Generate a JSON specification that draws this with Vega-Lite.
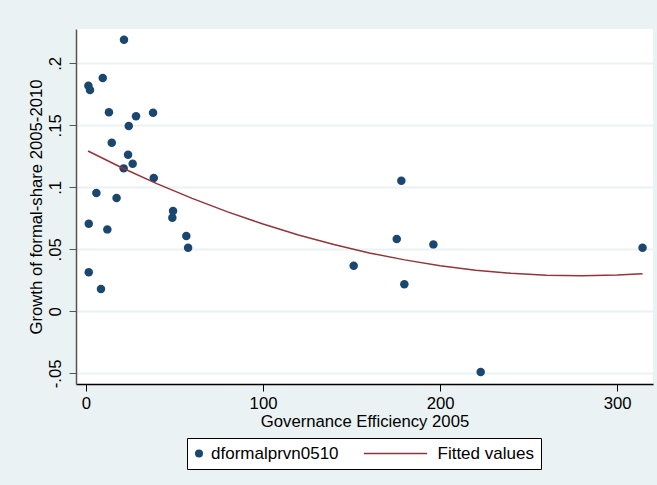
{
  "$schema": "https://vega.github.io/schema/vega-lite/v6.json",
  "width": 577,
  "height": 355,
  "autosize": "none",
  "padding": {"left": 76, "top": 29, "right": 4, "bottom": 101},
  "background": "#EAF2F3",
  "config": {
    "view": {"fill": "white", "stroke": null},
    "font": "Liberation Sans",
    "axis": {
      "labelFont": "Liberation Sans",
      "titleFont": "Liberation Sans",
      "labelFontSize": 16.7,
      "titleFontSize": 16.7,
      "titleFontWeight": "normal",
      "labelColor": "black",
      "titleColor": "black",
      "tickSize": 7,
      "tickWidth": 1,
      "labelFlush": false,
      "labelOverlap": false
    },
    "legend": {
      "labelFont": "Liberation Sans",
      "title": null,
      "orient": "none",
      "legendX": 111,
      "legendY": 409,
      "direction": "horizontal",
      "padding": 7,
      "clipHeight": 17,
      "strokeColor": "black",
      "fillColor": "white",
      "cornerRadius": 0,
      "labelFontSize": 17,
      "labelColor": "black",
      "labelLimit": 300,
      "columnPadding": 24,
      "symbolSize": 64,
      "symbolStrokeWidth": 1.5
    }
  },
  "datasets": {
    "pts": [
      {"gov": 21.5, "growth": 0.2190},
      {"gov": 9.5, "growth": 0.1881},
      {"gov": 1.4, "growth": 0.1819},
      {"gov": 2.3, "growth": 0.1785},
      {"gov": 13.0, "growth": 0.1605},
      {"gov": 28.3, "growth": 0.1573},
      {"gov": 37.9, "growth": 0.1602},
      {"gov": 24.2, "growth": 0.1494},
      {"gov": 14.6, "growth": 0.1360},
      {"gov": 23.8, "growth": 0.1263},
      {"gov": 26.4, "growth": 0.1190},
      {"gov": 21.3, "growth": 0.1153},
      {"gov": 38.3, "growth": 0.1075},
      {"gov": 5.9, "growth": 0.0954},
      {"gov": 17.3, "growth": 0.0914},
      {"gov": 1.6, "growth": 0.0706},
      {"gov": 12.1, "growth": 0.0661},
      {"gov": 49.2, "growth": 0.0809},
      {"gov": 48.8, "growth": 0.0755},
      {"gov": 56.7, "growth": 0.0607},
      {"gov": 57.7, "growth": 0.0513},
      {"gov": 1.6, "growth": 0.0315},
      {"gov": 8.5, "growth": 0.0180},
      {"gov": 178.1, "growth": 0.1053},
      {"gov": 175.5, "growth": 0.0583},
      {"gov": 196.2, "growth": 0.0540},
      {"gov": 151.2, "growth": 0.0368},
      {"gov": 179.8, "growth": 0.0218},
      {"gov": 222.9, "growth": -0.0490},
      {"gov": 314.3, "growth": 0.0513}
    ],
    "fit": [
      {"gov": 1.2, "fitted": 0.1293},
      {"gov": 20, "fitted": 0.1160},
      {"gov": 40, "fitted": 0.1030},
      {"gov": 60, "fitted": 0.0911},
      {"gov": 80, "fitted": 0.0802},
      {"gov": 100, "fitted": 0.0704},
      {"gov": 120, "fitted": 0.0616},
      {"gov": 140, "fitted": 0.0539},
      {"gov": 160, "fitted": 0.0471},
      {"gov": 180, "fitted": 0.0415},
      {"gov": 200, "fitted": 0.0368},
      {"gov": 220, "fitted": 0.0332},
      {"gov": 240, "fitted": 0.0307},
      {"gov": 260, "fitted": 0.0292},
      {"gov": 280, "fitted": 0.0287},
      {"gov": 300, "fitted": 0.0293},
      {"gov": 314.3, "fitted": 0.0304}
    ]
  },
  "layer": [
    {
      "data": {"name": "pts"},
      "mark": {"type": "point", "filled": true, "size": 72, "opacity": 1},
      "encoding": {
        "x": {
          "field": "gov", "type": "quantitative",
          "scale": {"domain": [-5.6, 320.2], "nice": false, "zero": false},
          "axis": {
            "title": "Governance Efficiency 2005",
            "values": [0, 100, 200, 300],
            "grid": false,
            "domainColor": "black",
            "domainWidth": 1.5,
            "tickColor": "black",
            "labelPadding": 4,
            "titlePadding": 2
          }
        },
        "y": {
          "field": "growth", "type": "quantitative",
          "scale": {"domain": [-0.0586, 0.2277], "nice": false, "zero": false},
          "axis": {
            "title": "Growth of formal-share 2005-2010",
            "values": [-0.05, 0, 0.05, 0.1, 0.15, 0.2],
            "labelExpr": "datum.value == 0 ? '0' : (datum.value < 0 ? '-' : '') + replace(format(abs(datum.value), '.2~f'), '0.', '.')",
            "labelAngle": -90,
            "labelAlign": "center",
            "labelBaseline": "alphabetic",
            "labelPadding": 9,
            "grid": true,
            "gridColor": "#EAF2F3",
            "gridWidth": 2,
            "domainColor": "#555555",
            "domainWidth": 1.5,
            "tickColor": "#555555",
            "titlePadding": 2
          }
        },
        "color": {
          "datum": "dformalprvn0510",
          "type": "nominal",
          "scale": {"domain": ["dformalprvn0510", "Fitted values"], "range": ["#1A476F", "#90353B"]},
          "legend": {
            "symbolType": "circle",
            "encode": {
              "symbols": {
                "update": {
                  "x": {"signal": "datum.value == 'Fitted values' ? 32.5 : 5"},
                  "shape": {"signal": "datum.value == 'Fitted values' ? 'stroke' : 'circle'"},
                  "size": {"signal": "datum.value == 'Fitted values' ? 4000 : 64"},
                  "fill": {"signal": "datum.value == 'Fitted values' ? 'transparent' : '#1A476F'"},
                  "stroke": {"signal": "datum.value == 'Fitted values' ? '#90353B' : '#1A476F'"},
                  "strokeWidth": {"signal": "datum.value == 'Fitted values' ? 1.5 : 0"}
                }
              },
              "labels": {
                "update": {
                  "x": {"signal": "datum.value == 'Fitted values' ? 74.5 : 17"}
                }
              }
            }
          }
        }
      }
    },
    {
      "data": {"name": "fit"},
      "mark": {"type": "line", "strokeWidth": 1.5},
      "encoding": {
        "x": {"field": "gov", "type": "quantitative"},
        "y": {"field": "fitted", "type": "quantitative"},
        "color": {
          "datum": "Fitted values", "type": "nominal",
          "legend": {
            "symbolType": "circle",
            "encode": {
              "symbols": {
                "update": {
                  "x": {"signal": "datum.value == 'Fitted values' ? 32.5 : 5"},
                  "shape": {"signal": "datum.value == 'Fitted values' ? 'stroke' : 'circle'"},
                  "size": {"signal": "datum.value == 'Fitted values' ? 4000 : 64"},
                  "fill": {"signal": "datum.value == 'Fitted values' ? 'transparent' : '#1A476F'"},
                  "stroke": {"signal": "datum.value == 'Fitted values' ? '#90353B' : '#1A476F'"},
                  "strokeWidth": {"signal": "datum.value == 'Fitted values' ? 1.5 : 0"}
                }
              },
              "labels": {
                "update": {
                  "x": {"signal": "datum.value == 'Fitted values' ? 74.5 : 17"}
                }
              }
            }
          }
        }
      }
    }
  ]
}
